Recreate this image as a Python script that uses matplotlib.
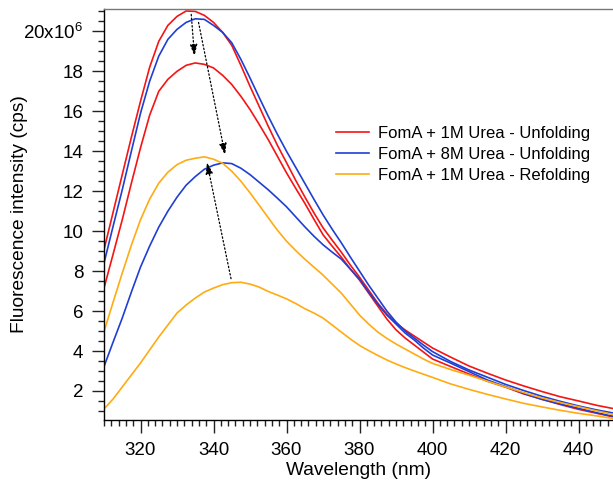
import matplotlib
matplotlib.use('Agg')
import matplotlib.pyplot as plt
import numpy as np
from matplotlib.ticker import MultipleLocator, FixedLocator, FuncFormatter

plt.rcParams['font.family'] = ['Liberation Sans', 'DejaVu Sans']
plt.rcParams['mathtext.fontset'] = 'custom'
plt.rcParams['mathtext.rm'] = 'Liberation Sans'

# wavelength (nm): 2.5 nm steps up to 400, then 5 nm
wl = [310 + 2.5 * i for i in range(37)] + list(range(405, 451, 5))

# fluorescence intensity, x10^6 cps
unf1m_a = [9.07, 10.95, 12.83, 14.7, 16.5, 18.2, 19.5, 20.3, 20.75, 21.02, 21.0, 20.8, 20.45, 19.95,
           19.3, 18.3, 17.25, 16.25, 15.25, 14.3, 13.43, 12.55, 11.72, 10.92, 10.17, 9.55, 8.95, 8.3,
           7.7, 7.05, 6.4, 5.85, 5.4, 5.05, 4.75, 4.45, 4.15,
           3.69, 3.25, 2.89, 2.55, 2.25, 1.97, 1.71, 1.5, 1.28, 1.1]
unf1m_b = [7.15, 8.85, 10.57, 12.4, 14.17, 15.8, 17.0, 17.6, 18.0, 18.3, 18.42, 18.35, 18.17, 17.8,
           17.34, 16.75, 16.09, 15.35, 14.58, 13.75, 12.92, 12.15, 11.4, 10.6, 9.82, 9.25, 8.7, 8.1,
           7.55, 6.9, 6.25, 5.6, 5.06, 4.65, 4.3, 3.95, 3.6,
           3.22, 2.85, 2.49, 2.19, 1.85, 1.58, 1.32, 1.08, 0.88, 0.68]
unf8m_a = [8.4, 10.25, 12.07, 14.0, 15.9, 17.5, 18.76, 19.6, 20.1, 20.45, 20.63, 20.6, 20.3, 19.95,
           19.43, 18.6, 17.67, 16.7, 15.75, 14.85, 14.0, 13.2, 12.4, 11.6, 10.82, 10.1, 9.42, 8.7,
           8.0, 7.3, 6.65, 6.0, 5.45, 5.0, 4.65, 4.3, 3.97,
           3.47, 3.05, 2.69, 2.33, 2.02, 1.73, 1.48, 1.25, 1.05, 0.88]
unf8m_b = [3.22, 4.45, 5.65, 6.95, 8.2, 9.25, 10.2, 11.0, 11.7, 12.3, 12.73, 13.1, 13.3, 13.42,
           13.38, 13.15, 12.83, 12.45, 12.07, 11.65, 11.22, 10.72, 10.22, 9.75, 9.32, 8.95, 8.6, 8.1,
           7.6, 6.95, 6.35, 5.8, 5.35, 4.9, 4.55, 4.15, 3.8,
           3.39, 2.97, 2.55, 2.22, 1.88, 1.58, 1.35, 1.13, 0.91, 0.71]
ref1m_a = [4.97, 6.45, 7.9, 9.3, 10.57, 11.6, 12.4, 12.95, 13.33, 13.55, 13.65, 13.72, 13.6, 13.4,
           13.0, 12.5, 11.92, 11.3, 10.67, 10.05, 9.5, 9.03, 8.6, 8.2, 7.8, 7.35, 6.9, 6.35,
           5.8, 5.35, 4.95, 4.63, 4.35, 4.1, 3.85, 3.6, 3.38,
           3.07, 2.79, 2.49, 2.2, 1.92, 1.65, 1.42, 1.21, 1.0, 0.8]
ref1m_b = [1.1, 1.6, 2.2, 2.8, 3.4, 4.05, 4.7, 5.3, 5.9, 6.3, 6.65, 6.95, 7.15, 7.32,
           7.42, 7.44, 7.35, 7.2, 6.98, 6.8, 6.61, 6.38, 6.12, 5.9, 5.65, 5.3, 4.95, 4.6,
           4.28, 4.02, 3.78, 3.55, 3.35, 3.17, 3.0, 2.84, 2.68,
           2.35, 2.08, 1.83, 1.6, 1.38, 1.2, 1.03, 0.88, 0.75, 0.61]

labels = ['FomA + 1M Urea - Unfolding', 'FomA + 8M Urea - Unfolding', 'FomA + 1M Urea - Refolding']

# peak shift arrows: (x_start, y_start, x_end, y_end)
arrows = [(333.9, 20.85, 334.8, 18.75),
          (335.9, 20.45, 343.2, 13.8),
          (344.8, 7.62, 338.2, 13.45)]

red = '#f41414'
blue = '#1f3fd2'
orange = '#ffab12'

fig = plt.figure(figsize=(6.13, 4.88), dpi=100)
ax = fig.add_axes([104/613, 68/488, 509/613, 411/488])

ax.plot(wl, unf1m_a, color=red, lw=1.2, label=labels[0])
ax.plot(wl, unf1m_b, color=red, lw=1.2)
ax.plot(wl, unf8m_a, color=blue, lw=1.2, label=labels[1])
ax.plot(wl, unf8m_b, color=blue, lw=1.2)
ax.plot(wl, ref1m_a, color=orange, lw=1.2, label=labels[2])
ax.plot(wl, ref1m_b, color=orange, lw=1.2)

for x0, y0, x1, y1 in arrows:
    ax.annotate('', xy=(x1, y1), xytext=(x0, y0),
                arrowprops=dict(arrowstyle='-|>,head_length=0.7,head_width=0.22',
                                color='black', lw=0.9, linestyle=(0, (1.2, 1.8)),
                                shrinkA=0, shrinkB=0))

ax.set_xlim(310, 449.45)
ax.set_ylim(0.546, 21.12)

ax.xaxis.set_major_locator(FixedLocator([320, 340, 360, 380, 400, 420, 440]))
ax.xaxis.set_minor_locator(MultipleLocator(2))
ax.yaxis.set_major_locator(FixedLocator(list(range(2, 21, 2))))
ax.yaxis.set_minor_locator(MultipleLocator(0.5))
ax.yaxis.set_major_formatter(FuncFormatter(
    lambda v, p: r'$\mathregular{20x10^{6}}$' if round(v) == 20 else '%d' % round(v)))

ax.tick_params(which='both', direction='out', top=False, right=False, width=1.0,
               labelsize=13.5, color='#222222')
ax.tick_params(which='major', length=9)
ax.tick_params(axis='x', which='major', pad=7)
ax.tick_params(axis='y', which='major', pad=6)
ax.tick_params(which='minor', length=4.5)

ax.spines['right'].set_visible(False)
ax.spines['top'].set_color('#777777')
for s in ['left', 'bottom', 'top']:
    ax.spines[s].set_linewidth(1.0)

ax.set_xlabel('Wavelength (nm)', fontsize=13.8, labelpad=2)
ax.set_ylabel('Fluorescence intensity (cps)', fontsize=13.8)
ax.yaxis.set_label_coords(-0.149, 0.5)

ax.legend(loc='upper left', bbox_to_anchor=(336/613, (488-126)/488), bbox_transform=fig.transFigure,
          frameon=False, fontsize=12, handlelength=2.0, handletextpad=0.5, labelspacing=0.36,
          borderpad=0, borderaxespad=0)

fig.savefig('out.png', dpi=100)
